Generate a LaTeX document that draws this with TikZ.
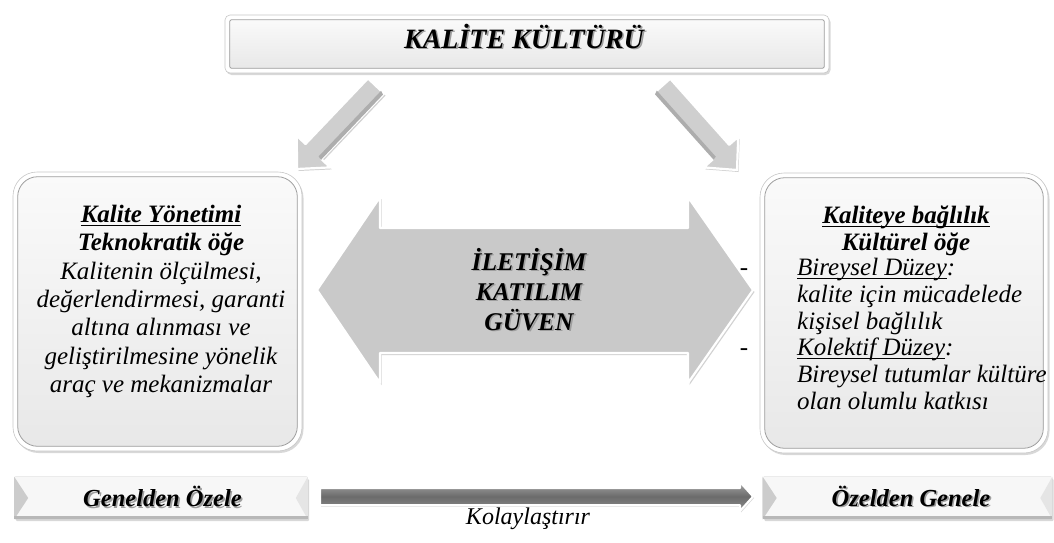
\documentclass[tikz,border=0pt]{standalone}
\usepackage{fontspec}
\setmainfont{Liberation Serif}
\usetikzlibrary{shadows}

% text with a soft grey shadow behind it
\newcommand\shtext[1]{\leavevmode\rlap{\kern1.6pt\raisebox{-1.6pt}{\textcolor{black!38}{#1}}}#1}
% underline at a fixed depth below the baseline
\newsavebox\ulbox
\newcommand\uln[1]{\leavevmode\sbox\ulbox{#1}\rlap{\rule[-3.2pt]{\wd\ulbox}{1.1pt}}\usebox\ulbox}
\newcommand\sizeTitle{\fontsize{28}{30}\selectfont}
\newcommand\sizeMid{\fontsize{25.5}{30}\selectfont}
\newcommand\sizeLeft{\fontsize{25}{28.3}\selectfont}
\newcommand\sizeRight{\fontsize{25}{26.8}\selectfont}
\newcommand\sizeBottom{\fontsize{24.5}{26}\selectfont}

\begin{document}
\begin{tikzpicture}[x=1pt,y=-1pt,
  frame/.style={draw=black!22, fill=white, line width=0.6pt, inner sep=0pt,
    drop shadow={opacity=0.3, shadow xshift=1.5pt, shadow yshift=-2pt}},
  face/.style={draw=black!38, line width=0.8pt, top color=black!2, bottom color=black!9},
  grayarrow/.style={fill=black!19, draw=white, line width=2.2pt, line join=round,
    drop shadow={opacity=0.35, shadow xshift=1.5pt, shadow yshift=-2pt}},
  arrowedge/.style={fill=black!32},
  darkarrow/.style={top color=black!35, bottom color=black!45, middle color=black!58,
    draw=white, line width=2pt, line join=round,
    drop shadow={opacity=0.3, shadow xshift=1pt, shadow yshift=-1.5pt}},
  bevelL/.style={fill=black!20},
  bevelR/.style={fill=black!10},
  bevelB/.style={fill=black!28},
  label/.style={inner sep=0pt}]
\useasboundingbox[fill=white] (0,0) rectangle (1054,542);

% ---- top box
\node[frame, rounded corners=5pt, minimum width=604pt, minimum height=58pt] (top) at (527,44) {};
\path[face, rounded corners=2pt] ([xshift=5pt,yshift=-5pt]top.north west) rectangle ([xshift=-5pt,yshift=5pt]top.south east);
\node[label, anchor=base, font=\sizeTitle\bfseries\itshape] (toptxt) at (524,48) {\shtext{KALİTE KÜLTÜRÜ}};

% ---- side panels
\node[frame, rounded corners=24pt, minimum width=289pt, minimum height=279pt] (yon) at (157.5,311.5) {};
\path[face, rounded corners=20pt] ([xshift=5pt,yshift=-5pt]yon.north west) rectangle ([xshift=-5pt,yshift=5pt]yon.south east);
\node[frame, rounded corners=24pt, minimum width=288pt, minimum height=280pt] (bag) at (904,313) {};
\path[face, rounded corners=20pt] ([xshift=5pt,yshift=-5pt]bag.north west) rectangle ([xshift=-5pt,yshift=5pt]bag.south east);

% ---- arrows from the top box, with a darker bevel on one side of the shaft
\path[grayarrow] (368,78.4) -- (305.5,144) -- (296.8,135.8) -- (297,169) -- (330.2,167.4) -- (321.5,159.2) -- (384,93.6) -- cycle;
\path[arrowedge] (383,94.6) -- (321,159.8) -- (318.6,156.4) -- (381.1,90.8) -- cycle;
\path[grayarrow] (670.2,78.7) -- (729.2,144.8) -- (738.2,136.8) -- (737,170) -- (703.8,167.4) -- (712.8,159.4) -- (653.8,93.3) -- cycle;
\path[arrowedge] (655,94.3) -- (713.5,159.6) -- (715.8,156.7) -- (656.8,90.6) -- cycle;

% ---- double arrow in the middle
\path[grayarrow, fill=black!21] (317,290) -- (380,197) -- (380,228) -- (688,228) -- (688,197) -- (753,290)
  -- (688,383) -- (688,353) -- (380,353) -- (380,383) -- cycle;
\node[label, anchor=base, font=\sizeMid\bfseries\itshape] (ilet) at (529,270) {\shtext{İLETİŞİM}};
\node[label, anchor=base, font=\sizeMid\bfseries\itshape] (katil) at (529,300) {\shtext{KATILIM}};
\node[label, anchor=base, font=\sizeMid\bfseries\itshape] (guven) at (529,330) {\shtext{GÜVEN}};

% ---- left panel text
\node[label, anchor=north, align=center, font=\sizeLeft] (yontxt) at (161,205)
  {\textbf{\textit{\uln{Kalite Yönetimi}}}\\
   \textbf{\textit{Teknokratik öğe}}\\
   \textit{Kalitenin ölçülmesi,}\\
   \textit{değerlendirmesi, garanti}\\
   \textit{altına alınması ve}\\
   \textit{geliştirilmesine yönelik}\\
   \textit{araç ve mekanizmalar}};

% ---- right panel text
\node[label, anchor=north, align=center, font=\sizeRight\bfseries\itshape] (baghead) at (906,206)
  {\uln{Kaliteye bağlılık}\\Kültürel öğe};
\node[label, anchor=north west, align=left, font=\sizeRight\itshape] (baglist) at (797,258)
  {\llap{-\hspace{49pt}}\uln{Bireysel Düzey}:\\
   kalite için mücadelede\\
   kişisel bağlılık\\
   \llap{-\hspace{49pt}}\uln{Kolektif Düzey}:\\
   Bireysel tutumlar kültüre\\
   olan olumlu katkısı};

% ---- bottom row
\node[frame, rounded corners=1pt, minimum width=293pt, minimum height=42pt] (genel) at (161,498) {};
\path[fill=black!3] (genel.north west) rectangle (genel.south east);
\path[bevelL] (genel.north west) -- ([xshift=14pt]genel.west) -- (genel.south west) -- cycle;
\path[bevelR] (genel.north east) -- ([xshift=-12pt]genel.east) -- (genel.south east) -- cycle;
\path[bevelB] ([yshift=3pt]genel.south west) -- ([yshift=3pt]genel.south east) -- (genel.south east) -- (genel.south west) -- cycle;
\node[label, anchor=base, font=\sizeBottom\bfseries\itshape] (geneltxt) at (162.5,506.5) {\shtext{Genelden Özele}};

\node[frame, rounded corners=1pt, minimum width=289pt, minimum height=42pt] (ozel) at (907.5,498) {};
\path[fill=black!3] (ozel.north west) rectangle (ozel.south east);
\path[bevelL] (ozel.north west) -- ([xshift=14pt]ozel.west) -- (ozel.south west) -- cycle;
\path[bevelR] (ozel.north east) -- ([xshift=-12pt]ozel.east) -- (ozel.south east) -- cycle;
\path[bevelB] ([yshift=3pt]ozel.south west) -- ([yshift=3pt]ozel.south east) -- (ozel.south east) -- (ozel.south west) -- cycle;
\node[label, anchor=base, font=\sizeBottom\bfseries\itshape] (ozeltxt) at (911,506) {\shtext{Özelden Genele}};

\path[darkarrow] (320,488) -- (740,488) -- (740,482) -- (753,496.5) -- (740,511) -- (740,505) -- (320,505) -- cycle;
\node[label, anchor=base, font=\fontsize{24}{26}\selectfont\itshape] (kolay) at (528,524) {Kolaylaştırır};
\end{tikzpicture}
\end{document}
